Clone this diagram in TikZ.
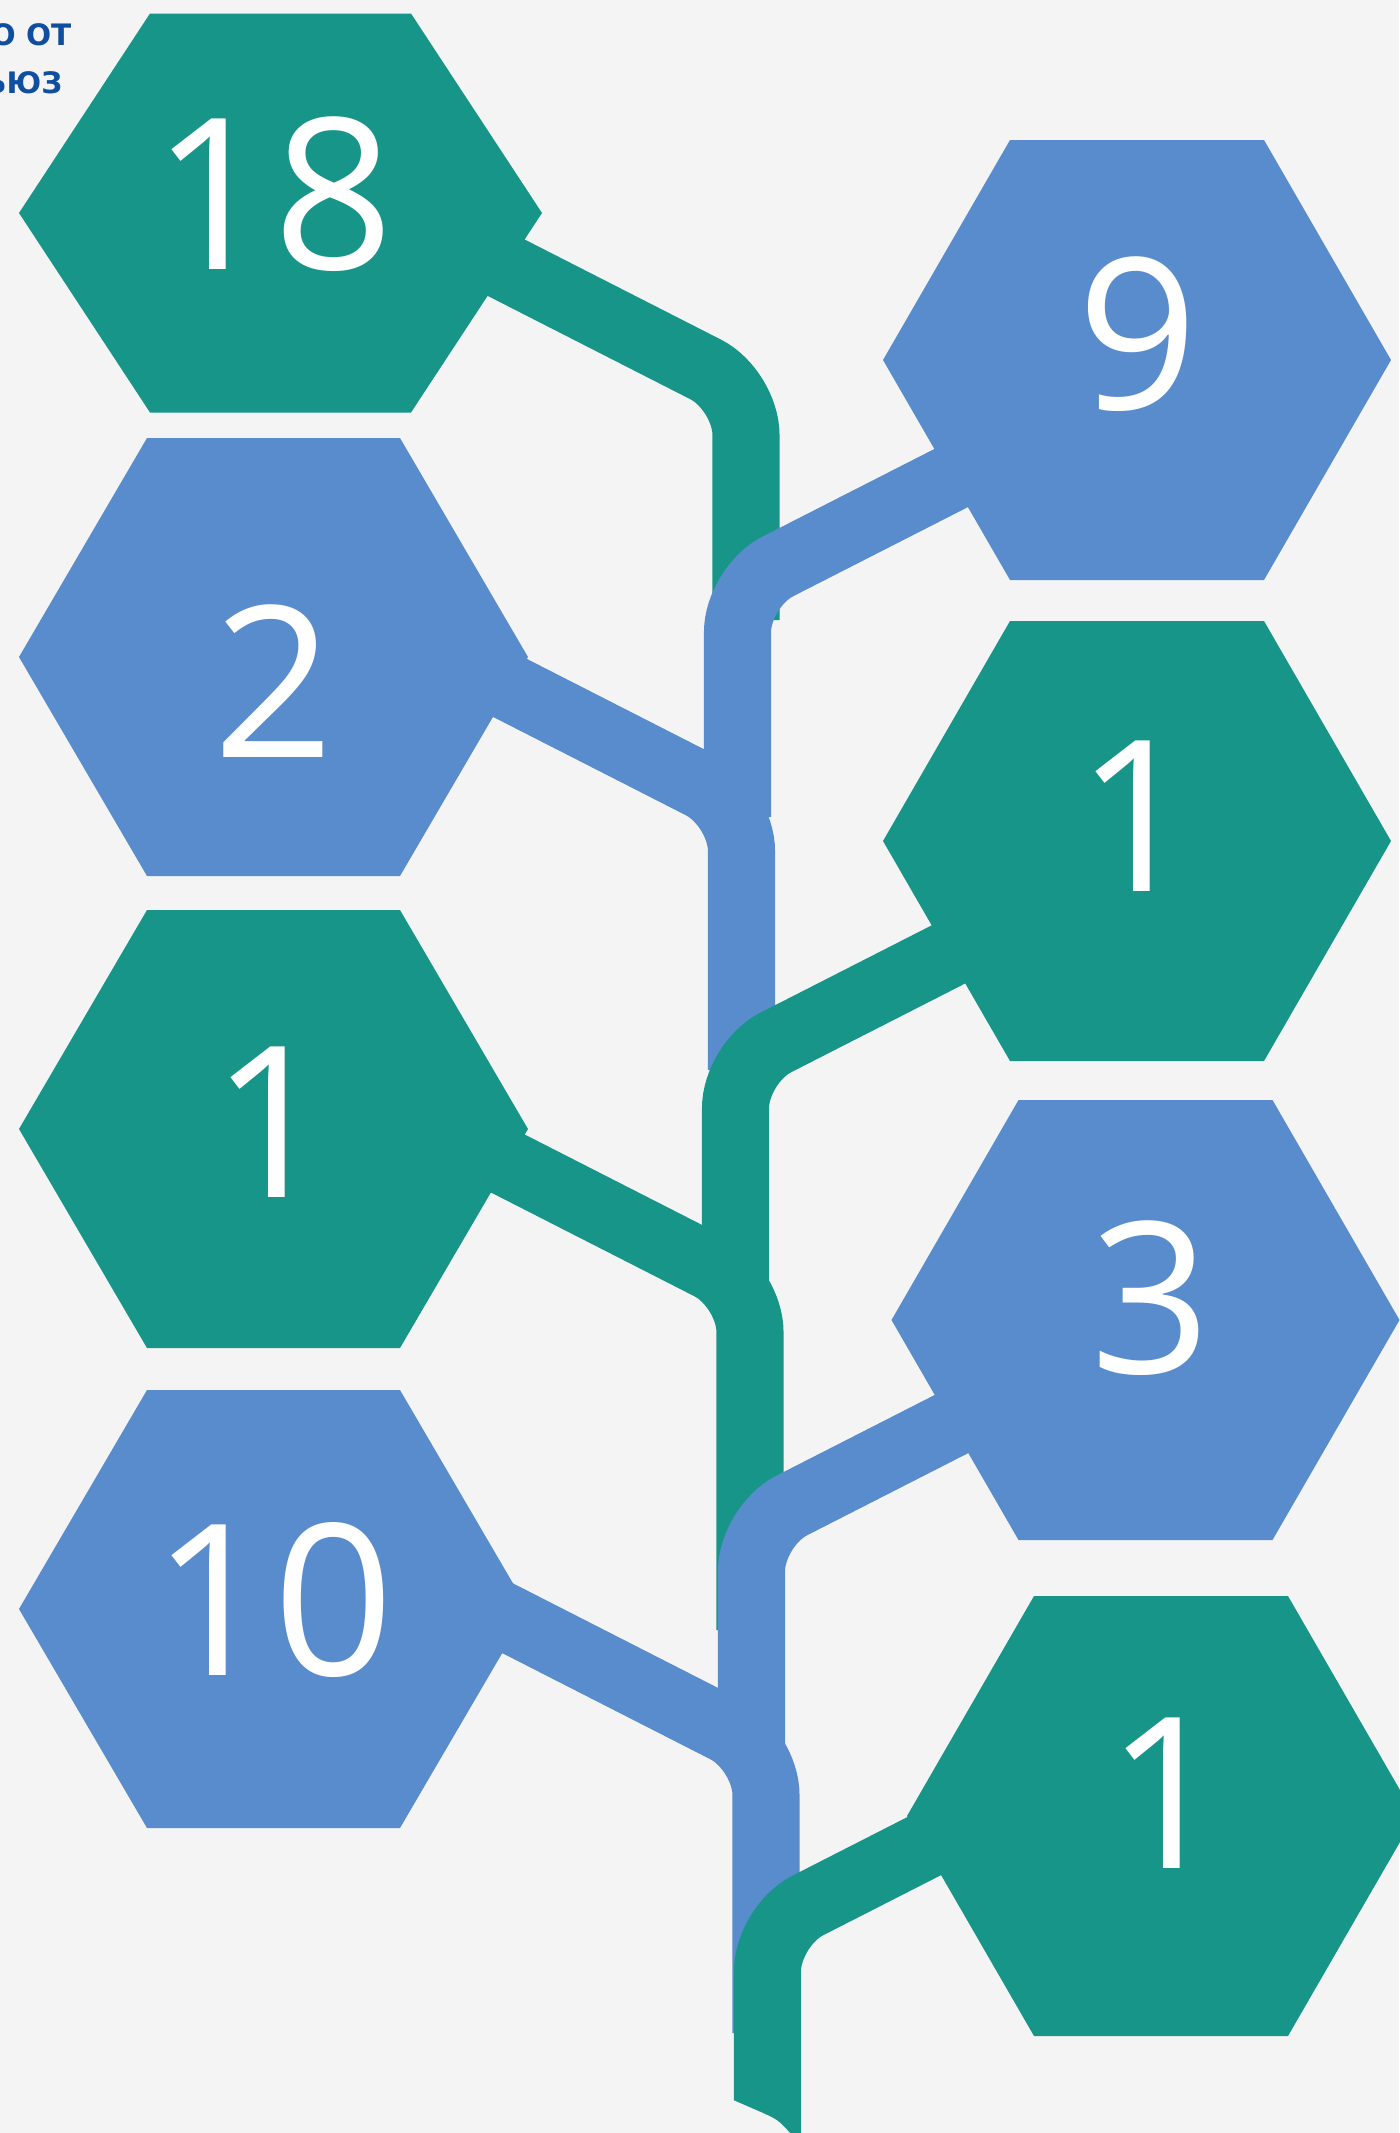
\documentclass[tikz,border=0pt]{standalone}
\usepackage{fontspec}
\setmainfont{Open Sans}
\newfontfamily\headfont{DejaVu Sans}
\definecolor{hexteal}{RGB}{24,149,137}
\definecolor{hexblue}{RGB}{88,140,204}
\definecolor{pagegrey}{RGB}{244,244,244}
\definecolor{titleblue}{RGB}{16,78,160}
\usetikzlibrary{positioning}

\tikzset{
  tealband/.style={draw=hexteal, line width=0.67cm, rounded corners=0.45cm},
  blueband/.style={draw=hexblue, line width=0.67cm, rounded corners=0.45cm},
  numlabel/.style={text=white, font=\fontsize{60}{60}\selectfont, inner sep=0pt, anchor=base},
  titlelabel/.style={text=titleblue, font=\headfont\bfseries\fontsize{8.4}{10}\selectfont, inner sep=0pt, anchor=base east}
}

\begin{document}
\begin{tikzpicture}[x=0.01cm, y=-0.01cm]
    % Page
    \fill[pagegrey] (0,0) rectangle (1399,2133);
    \useasboundingbox (0,0) rectangle (1399,2133);

    % Heading, cut by the left edge
    \node[titlelabel] (title1) at (72,45) {О ОТ};
    \node[titlelabel] (title2) at (63,93) {ЬЮЗ};

    % Trunk joints and ends
    \coordinate (sA) at (346,186);    \coordinate (jA) at (746,390);    \coordinate (eA) at (746,620);
    \coordinate (sB) at (1137.5,383); \coordinate (jB) at (737.5,587);  \coordinate (eB) at (737.5,817);
    \coordinate (sC) at (341.5,602);  \coordinate (jC) at (741.5,806);  \coordinate (eC) at (741.5,1070);
    \coordinate (sD) at (1135.5,859); \coordinate (jD) at (735.5,1063); \coordinate (eD) at (735.5,1280);
    \coordinate (sE) at (350,1083);   \coordinate (jE) at (750,1287);   \coordinate (eE) at (750,1630);
    \coordinate (sF) at (1151.5,1322);\coordinate (jF) at (751.5,1526); \coordinate (eF) at (751.5,1744);
    \coordinate (sG) at (366,1546);   \coordinate (jG) at (766,1750);   \coordinate (eG) at (766,2033);
    \coordinate (sH) at (1167.5,1722);\coordinate (jH) at (767.5,1926); \coordinate (eH) at (767.5,2150);

    % Branches, top to bottom
    \draw[tealband] (sA) -- (jA) -- (eA);
    \draw[blueband] (sB) -- (jB) -- (eB);
    \draw[blueband] (sC) -- (jC) -- (eC);
    \draw[tealband] (sD) -- (jD) -- (eD);
    \draw[tealband] (sE) -- (jE) -- (eE);
    \draw[blueband] (sF) -- (jF) -- (eF);
    \draw[blueband] (sG) -- (jG) -- (eG);
    \draw[tealband] (sH) -- (jH) -- (eH);
    % notch at the foot of the trunk
    \fill[pagegrey] (733,2100) -- (763,2113) .. controls (778,2120) .. (791,2134) -- (733,2134) -- cycle;

    % Hexagons, left column
    \fill[hexteal] (280.5,213) ++(-261.5,0) -- ++(131,-199.5) -- ++(261,0) -- ++(131,199.5) -- ++(-131,199.5) -- ++(-261,0) -- cycle;
    \fill[hexblue] (273.5,657) ++(-254.5,0) -- ++(128,-219) -- ++(253,0) -- ++(128,219) -- ++(-128,219) -- ++(-253,0) -- cycle;
    \fill[hexteal] (273.5,1129) ++(-254.5,0) -- ++(128,-219) -- ++(253,0) -- ++(128,219) -- ++(-128,219) -- ++(-253,0) -- cycle;
    \fill[hexblue] (273.5,1609) ++(-254.5,0) -- ++(128,-219) -- ++(253,0) -- ++(128,219) -- ++(-128,219) -- ++(-253,0) -- cycle;

    % Hexagons, right column
    \fill[hexblue] (1137,360) ++(-254,0) -- ++(127,-220) -- ++(254,0) -- ++(127,220) -- ++(-127,220) -- ++(-254,0) -- cycle;
    \fill[hexteal] (1137,841) ++(-254,0) -- ++(127,-220) -- ++(254,0) -- ++(127,220) -- ++(-127,220) -- ++(-254,0) -- cycle;
    \fill[hexblue] (1145.5,1320) ++(-254,0) -- ++(127,-220) -- ++(254,0) -- ++(127,220) -- ++(-127,220) -- ++(-254,0) -- cycle;
    \fill[hexteal] (1161,1816) ++(-254,0) -- ++(127,-220) -- ++(254,0) -- ++(127,220) -- ++(-127,220) -- ++(-254,0) -- cycle;

    % Numbers
    \node[numlabel] (n18) at (273,269.5) {18};
    \node[numlabel] (n2)  at (274,757) {2};
    \node[numlabel] (n1a) at (272,1197.7) {1};
    \node[numlabel] (n10) at (273,1675) {10};
    \node[numlabel] (n9)  at (1138,409) {9};
    \node[numlabel] (n1b) at (1137,891.5) {1};
    \node[numlabel] (n3)  at (1151,1373) {3};
    \node[numlabel] (n1c) at (1167,1868.7) {1};
\end{tikzpicture}
\end{document}
